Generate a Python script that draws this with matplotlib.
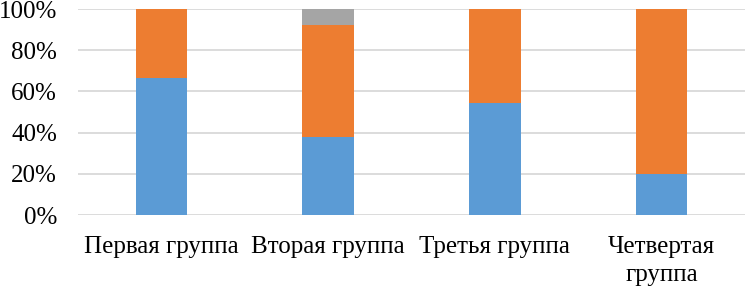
import matplotlib
matplotlib.use("Agg")
import matplotlib.pyplot as plt
import numpy as np
from matplotlib.ticker import FuncFormatter

categories = ["Первая группа", "Вторая группа", "Третья группа", "Четвертая\nгруппа"]
blue = [66.7, 37.7, 54.5, 20.0]
orange = [33.3, 54.5, 45.5, 80.0]
gray = [0.0, 7.8, 0.0, 0.0]

C_BLUE = "#5B9BD5"
C_ORANGE = "#ED7D31"
C_GRAY = "#A5A5A5"
GRID = "#D9D9D9"

plt.rcParams["font.family"] = ["Liberation Serif", "DejaVu Serif"]

fig = plt.figure(figsize=(7.45, 2.9), dpi=100)
ax = fig.add_axes([78 / 745, 1 - 215 / 290, 1 - 78 / 745, (215 - 9) / 290])

x = np.arange(len(categories))
w = 0.31
b = np.array(blue)
o = np.array(orange)
ax.bar(x, b, w, color=C_BLUE, zorder=2)
ax.bar(x, o, w, bottom=b, color=C_ORANGE, zorder=2)
ax.bar(x, gray, w, bottom=b + o, color=C_GRAY, zorder=2)

ax.set_xlim(-0.5, 3.5)
ax.set_ylim(0, 100)
ax.set_yticks(np.arange(0, 101, 20))
ax.yaxis.set_major_formatter(FuncFormatter(lambda v, _: f"{int(v)}%"))
ax.set_xticks(x)
ax.set_xticklabels(categories, linespacing=1.35)
ax.grid(axis="y", color=GRID, linewidth=1.3, zorder=0)
for s in ["top", "right", "left", "bottom"]:
    ax.spines[s].set_visible(False)
ax.tick_params(axis="both", length=0, labelsize=18, colors="#000000")
ax.tick_params(axis="y", pad=15)
ax.tick_params(axis="x", pad=15)

fig.savefig("out.png", dpi=100)
